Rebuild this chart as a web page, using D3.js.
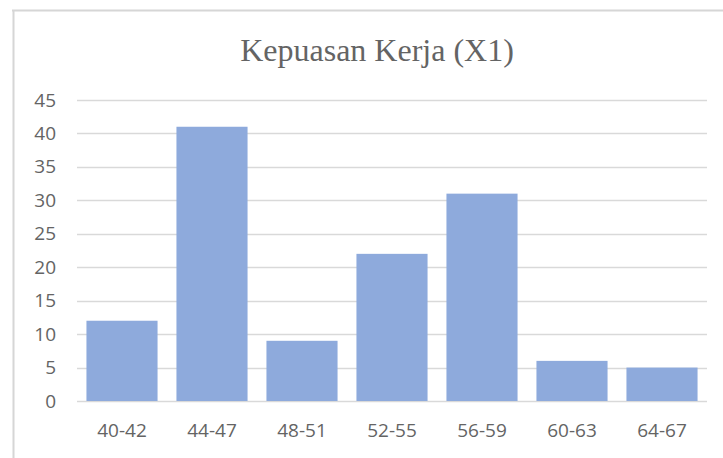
<!DOCTYPE html>
<html>
<head>
<meta charset="utf-8">
<script src="https://cdn.jsdelivr.net/npm/d3@7"></script>
<style>
  html, body { margin: 0; padding: 0; background: #ffffff; }
  svg { display: block; }
</style>
</head>
<body>
<svg id="chart" width="723" height="458"></svg>
<script>
const title = "Kepuasan Kerja (X1)";
const categories = ["40-42", "44-47", "48-51", "52-55", "56-59", "60-63", "64-67"];
const values = [12, 41, 9, 22, 31, 6, 5];
const yTicks = [0, 5, 10, 15, 20, 25, 30, 35, 40, 45];

const W = 723, H = 458;
const svg = d3.select("#chart");
const plot = { left: 77, right: 707, top: 100, bottom: 401 };

// frame (chart area border, partially cropped)
svg.append("line").attr("x1", 12).attr("x2", W).attr("y1", 10.5).attr("y2", 10.5)
  .attr("stroke", "#d6d6d6").attr("stroke-width", 2);
svg.append("line").attr("x1", 13.5).attr("x2", 13.5).attr("y1", 10).attr("y2", H)
  .attr("stroke", "#d6d6d6").attr("stroke-width", 2);

const x = d3.scaleBand().domain(categories)
  .range([plot.left, plot.right]).paddingInner(0.21).paddingOuter(0.105);
const y = d3.scaleLinear().domain([0, 45]).range([plot.bottom, plot.top]);

// gridlines
svg.append("g").selectAll("line").data(yTicks).join("line")
  .attr("x1", plot.left).attr("x2", plot.right)
  .attr("y1", d => Math.round(y(d)) + 0.5).attr("y2", d => Math.round(y(d)) + 0.5)
  .attr("stroke", "#d9d9d9").attr("stroke-width", 1.5);

// y axis labels
const yAxis = d3.axisLeft(y).tickValues(yTicks).tickSize(0).tickPadding(0);
const gy = svg.append("g").attr("transform", `translate(56,0)`).call(yAxis);
gy.select(".domain").remove();
gy.selectAll("text").attr("font-family", "'Open Sans', sans-serif")
  .attr("font-size", 19).attr("fill", "#646464");

// bars
svg.append("g").selectAll("rect").data(values).join("rect")
  .attr("x", (d, i) => x(categories[i]))
  .attr("width", x.bandwidth())
  .attr("y", d => y(d))
  .attr("height", d => y(0) - y(d))
  .attr("fill", "#8eaadc");

// x axis labels
const xAxis = d3.axisBottom(x).tickSize(0).tickPadding(0);
const gx = svg.append("g").attr("transform", `translate(0,${plot.bottom + 22})`).call(xAxis);
gx.select(".domain").remove();
gx.selectAll("text").attr("font-family", "'Open Sans', sans-serif")
  .attr("font-size", 19).attr("fill", "#646464");

// title
svg.append("text").attr("x", 377).attr("y", 61)
  .attr("text-anchor", "middle")
  .attr("font-family", "'Liberation Serif', 'DejaVu Serif', serif")
  .attr("font-size", 32).attr("fill", "#646464")
  .text(title);
</script>
</body>
</html>
